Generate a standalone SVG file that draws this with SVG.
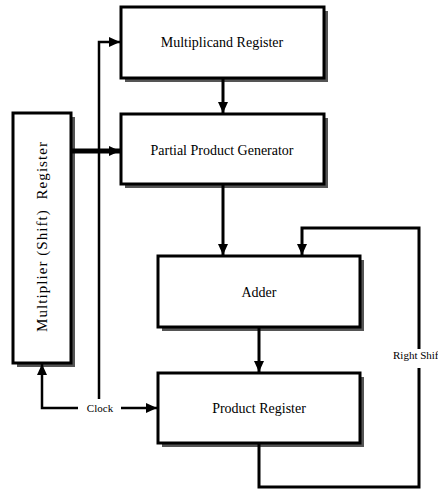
<svg xmlns="http://www.w3.org/2000/svg" width="438" height="490" viewBox="0 0 438 490">
<style>
.box{fill:#fff;stroke:#000;stroke-width:3}
.sh{fill:#555}
.t{font-family:"Liberation Serif","Times New Roman",serif;font-size:14px;fill:#000;text-anchor:middle}
.ln{fill:none;stroke:#000;stroke-width:3}
.thin{fill:none;stroke:#000;stroke-width:2.5}
</style>
<defs>
<marker id="ah" markerUnits="userSpaceOnUse" markerWidth="12" markerHeight="10" refX="11" refY="5" orient="auto">
<path d="M0,0 L11,5 L0,10 Z" fill="#000"/>
</marker>
</defs>
<rect width="438" height="490" fill="#fff"/>
<g id="multiplicand">
<rect class="sh" x="125" y="11" width="203" height="71"/>
<rect class="box" x="121" y="7" width="203" height="71"/>
<text class="t" x="222" y="47">Multiplicand Register</text>
</g>
<g id="ppg">
<rect class="sh" x="125" y="118" width="203" height="70"/>
<rect class="box" x="121" y="114" width="203" height="70"/>
<text class="t" x="222" y="155">Partial Product Generator</text>
</g>
<g id="multiplier">
<rect class="sh" x="17" y="117" width="58" height="250"/>
<rect class="box" x="13" y="113" width="58" height="250"/>
<text class="t" transform="translate(47,237) rotate(-90)" textLength="190" style="font-size:15px" xml:space="preserve">Multiplier (Shift)  Register</text>
</g>
<g id="adder">
<rect class="sh" x="162" y="260" width="202" height="71"/>
<rect class="box" x="158" y="256" width="202" height="71"/>
<text class="t" x="259" y="297">Adder</text>
</g>
<g id="product">
<rect class="sh" x="162" y="377" width="202" height="70"/>
<rect class="box" x="158" y="373" width="202" height="70"/>
<text class="t" x="259" y="413">Product Register</text>
</g>
<g id="connectors">
<path class="thin" d="M99,399 V42 H120" marker-end="url(#ah)"/>
<path class="ln" d="M71,151 H120" style="stroke-width:5" marker-end="url(#ah)"/>
<path class="thin" d="M78,408 H42 V364" marker-end="url(#ah)"/>
<path class="thin" d="M121,408 H157" marker-end="url(#ah)"/>
<path class="ln" d="M223,78 V113" marker-end="url(#ah)"/>
<path class="ln" d="M223,184 V255" marker-end="url(#ah)"/>
<path class="ln" d="M259,327 V372" marker-end="url(#ah)"/>
<path class="ln" d="M259,443 V487 H419 V368"/>
<path class="ln" d="M419,349 V228 H302 V255" marker-end="url(#ah)"/>
<text x="100" y="412" style="font-family:'Liberation Serif',serif;font-size:11px;text-anchor:middle">Clock</text>
<text x="393" y="359" style="font-family:'Liberation Serif',serif;font-size:11px">Right Shif</text>
</g>
</svg>
